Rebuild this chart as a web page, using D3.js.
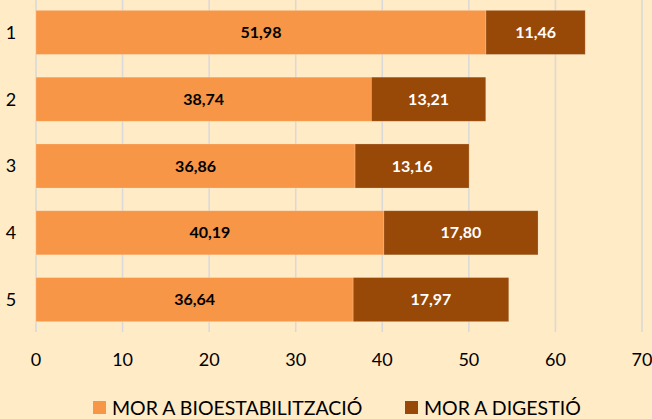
<!DOCTYPE html>
<html>
<head>
<meta charset="utf-8">
<script src="https://cdn.jsdelivr.net/npm/d3@7"></script>
<style>
  body { margin: 0; background: #FFEBC6; }
  svg { display: block; font-family: Lato, "Open Sans", sans-serif; }
</style>
</head>
<body>
<div id="chart"></div>
<script>
var categories = ["1", "2", "3", "4", "5"];
var bioValues = [51.98, 38.74, 36.86, 40.19, 36.64];
var digValues = [11.46, 13.21, 13.16, 17.80, 17.97];
var seriesNames = ["MOR A BIOESTABILITZACIÓ", "MOR A DIGESTIÓ"];
var xTicks = [0, 10, 20, 30, 40, 50, 60, 70];

document.addEventListener('DOMContentLoaded', function(){
    var width = 652,
        height = 419;
    var colors = ["#F79646", "#984807"];
    var textColors = ["#000", "#fff"];

    var svg = d3.select("#chart").append("svg")
        .attr("width", width)
        .attr("height", height);

    svg.append("rect").attr("width", width).attr("height", height).attr("fill", "#FFEBC6");

    var x = d3.scaleLinear().domain([0, 70]).range([36, 642]);
    var y = d3.scaleBand().domain(categories).range([-1, 333]).paddingInner(0.34).paddingOuter(0.17);

    // gridlines, extending below the baseline as tick marks
    svg.append("g").selectAll("line")
        .data(xTicks)
        .enter().append("line")
        .attr("x1", function(d){ return x(d); })
        .attr("x2", function(d){ return x(d); })
        .attr("y1", 0)
        .attr("y2", 332)
        .attr("stroke", "#D9D9D9")
        .attr("stroke-width", 1.5);

    var rows = categories.map(function(c, i){
        return [
            {cat: c, x0: 0, x1: bioValues[i], v: bioValues[i], s: 0},
            {cat: c, x0: bioValues[i], x1: bioValues[i] + digValues[i], v: digValues[i], s: 1}
        ];
    });
    var segs = [].concat.apply([], rows);

    var bars = svg.append("g");
    bars.selectAll("rect")
        .data(segs)
        .enter().append("rect")
        .attr("x", function(d){ return x(d.x0); })
        .attr("width", function(d){ return x(d.x1) - x(d.x0); })
        .attr("y", function(d){ return y(d.cat); })
        .attr("height", y.bandwidth())
        .attr("fill", function(d){ return colors[d.s]; })
        .attr("stroke", "rgba(255,255,255,0.25)")
        .attr("stroke-width", 0.75);

    bars.selectAll("text")
        .data(segs)
        .enter().append("text")
        .attr("x", function(d){ return (x(d.x0) + x(d.x1)) / 2; })
        .attr("y", function(d){ return y(d.cat) + y.bandwidth() / 2; })
        .attr("dy", "0.35em")
        .attr("text-anchor", "middle")
        .attr("font-size", 16)
        .attr("font-weight", "bold")
        .attr("fill", function(d){ return textColors[d.s]; })
        .text(function(d){ return d.v.toFixed(2).replace(".", ","); });

    // category labels
    svg.append("g").selectAll("text")
        .data(categories)
        .enter().append("text")
        .attr("x", 11)
        .attr("y", function(d){ return y(d) + y.bandwidth() / 2; })
        .attr("dy", "0.35em")
        .attr("text-anchor", "middle")
        .attr("font-size", 18)
        .attr("fill", "#000")
        .text(function(d){ return d; });

    // x tick labels
    svg.append("g").selectAll("text")
        .data(xTicks)
        .enter().append("text")
        .attr("x", function(d){ return x(d); })
        .attr("y", 360)
        .attr("dy", "0.35em")
        .attr("text-anchor", "middle")
        .attr("font-size", 18)
        .attr("fill", "#000")
        .text(function(d){ return d; });

    // legend
    var legendX = [93, 405];
    var legend = svg.append("g").selectAll("g")
        .data(seriesNames)
        .enter().append("g")
        .attr("transform", function(d, i){ return "translate(" + legendX[i] + ",401)"; });
    legend.append("rect")
        .attr("width", 13).attr("height", 13)
        .attr("fill", function(d, i){ return colors[i]; });
    legend.append("text")
        .attr("x", 19).attr("y", 7)
        .attr("dy", "0.35em")
        .attr("font-size", 19.5)
        .attr("fill", "#000")
        .text(function(d){ return d; });
});
</script>
</body>
</html>
